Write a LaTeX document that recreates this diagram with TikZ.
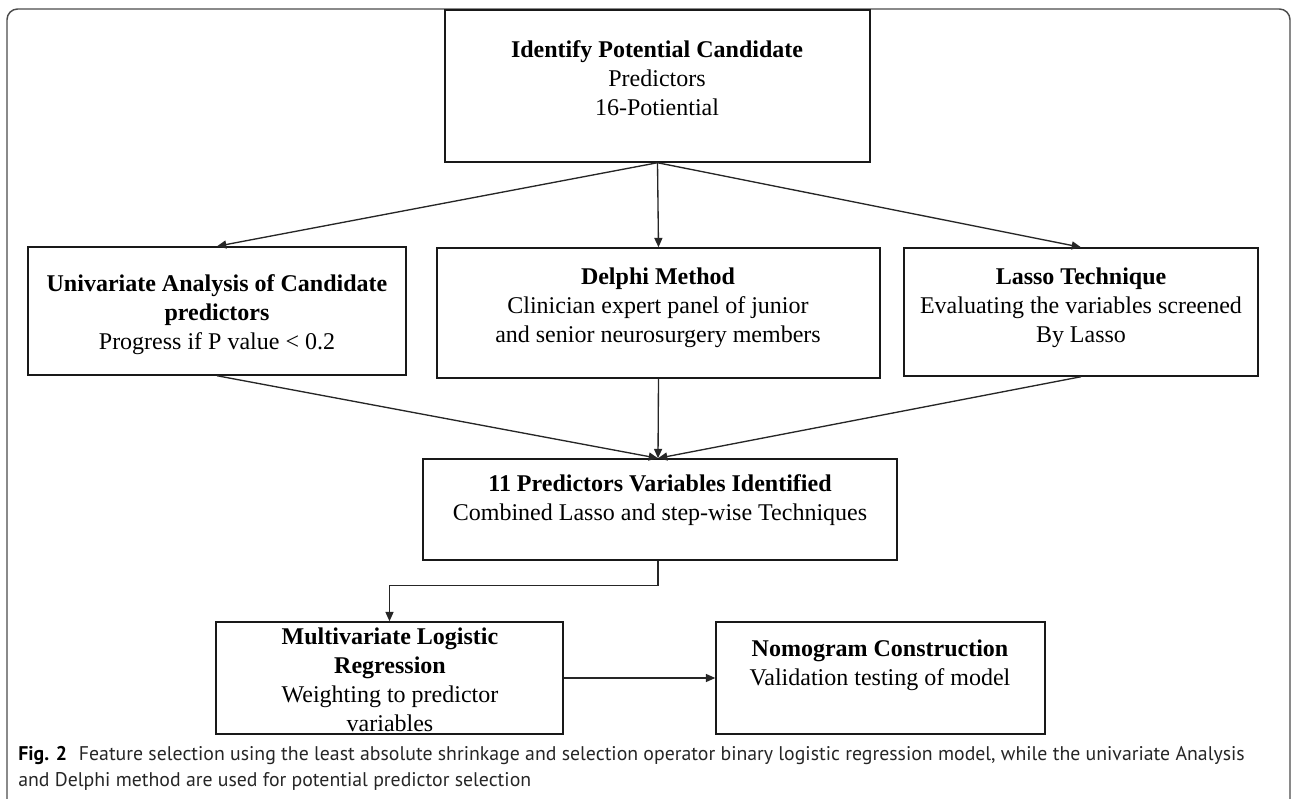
\documentclass[tikz,border=0pt]{standalone}
\usepackage{fontspec}
\setmainfont{Liberation Serif}
\newfontfamily\capfont{PT Sans}
\usetikzlibrary{arrows.meta,fit,calc}
\tikzset{
  box/.style={draw=black!90, line width=1.1pt, inner sep=0pt},
  txt/.style={align=center, font=\fontsize{18}{21.75}\selectfont, inner sep=0pt},
  conn/.style={draw=black!85, line width=1pt},
  arr/.style={conn, -{Triangle[length=7pt,width=6pt]}},
  frameline/.style={draw=black!70, line width=1.1pt, rounded corners=8pt},
  captext/.style={anchor=west, inner sep=0pt, font=\capfont\fontsize{14.85}{18}\selectfont, text=black!85}
}
\begin{document}
\begin{tikzpicture}[x=0.75pt,y=-0.75pt]
\useasboundingbox (0,0) rectangle (1292,799);
% outer frame
\draw[frameline] (7,810) -- (7,9) -- (1290,9) -- (1290,810);
% boxes
\node[box, fit={(445,10) (870,162)}] (top) {};
\node[box, fit={(28,247) (406,375)}] (uni) {};
\node[box, fit={(437,248) (880,378)}] (del) {};
\node[box, fit={(904,248) (1258,376)}] (las) {};
\node[box, fit={(423,459) (897,560)}] (pred) {};
\node[box, fit={(216,622) (563,734)}] (multi) {};
\node[box, fit={(716,622) (1045,734)}] (nomo) {};
% texts
\node[txt] (ttop) at (657,78) {\textbf{Identify Potential Candidate}\\Predictors\\16-Potiential};
\node[txt] (tuni) at (217,315) {\textbf{Univariate Analysis of Candidate}\\\textbf{predictors}\\Progress if P value < 0.2};
\node[txt] (tdel) at (658,308) {\textbf{Delphi Method}\\Clinician expert panel of junior\\and senior neurosurgery members};
\node[txt] (tlas) at (1081,308) {\textbf{Lasso Technique}\\Evaluating the variables screened\\By Lasso};
\node[txt] (tpred) at (660,500) {\textbf{11 Predictors Variables Identified}\\Combined Lasso and step-wise Techniques};
\node[txt] (tmulti) at (390,680) {\textbf{Multivariate Logistic}\\\textbf{Regression}\\Weighting to predictor\\variables};
\node[txt] (tnomo) at (880,665) {\textbf{Nomogram Construction}\\Validation testing of model};
% connectors
\coordinate (tb) at (top.south);
\draw[arr] (tb) -- (uni.north);
\draw[arr] (tb) -- (del.north);
\draw[arr] (tb) -- (las.north);
\coordinate (pt) at ($(pred.north)+(-2,0)$);
\draw[arr] (uni.south) -- (pt);
\draw[arr] (del.south) -- (pt);
\draw[arr] (las.south) -- (pt);
\coordinate (elb) at ($(pred.south)+(-2,25)$);
\draw[arr] ($(pred.south)+(-2,0)$) -- (elb) -| (multi.north);
\draw[arr] (multi.east) -- (nomo.west);
% caption
\node[captext] (cap1) at (18,756) {\textcolor{black}{\textbf{Fig. 2}}\hspace{0.6em}Feature selection using the least absolute shrinkage and selection operator binary logistic regression model, while the univariate Analysis};
\node[captext] (cap2) at (18,781) {and Delphi method are used for potential predictor selection};
\end{tikzpicture}
\end{document}
